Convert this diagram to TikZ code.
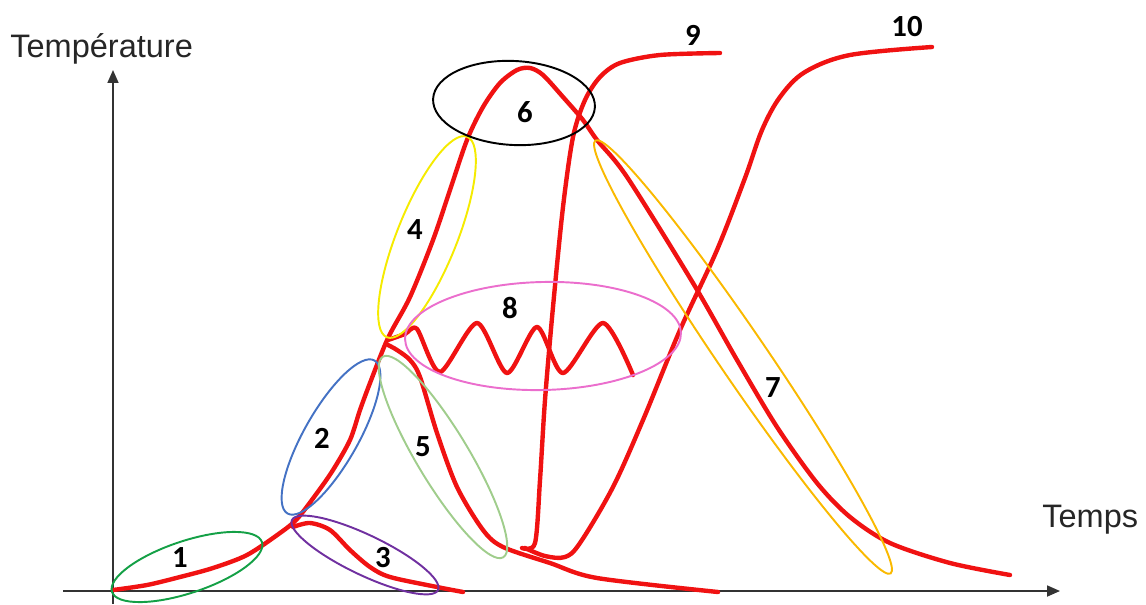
\documentclass[tikz,border=0pt]{standalone}
\usepackage{fontspec}
\setmainfont{Liberation Sans}
\newfontfamily\numfont{Carlito}
\usetikzlibrary{arrows.meta}
\definecolor{hot}{RGB}{240,18,18}
\definecolor{zoneA}{RGB}{20,160,70}
\definecolor{zoneB}{RGB}{68,114,196}
\definecolor{zoneC}{RGB}{112,48,160}
\definecolor{zoneD}{RGB}{245,235,0}
\definecolor{zoneE}{RGB}{160,205,140}
\definecolor{zoneG}{RGB}{250,185,0}
\definecolor{zoneH}{RGB}{235,110,205}

\begin{document}
\begin{tikzpicture}[x=0.02cm, y=-0.02cm,
	heat/.style={hot, line width=2.5pt, line cap=round, line join=round},
	zone/.style={line width=1.1pt},
	axis/.style={black!80, line width=1pt, -{Triangle[length=2.6mm, width=2.2mm]}},
	num/.style={font=\numfont\bfseries\fontsize{17.5}{19}\selectfont, inner sep=0pt},
	axislabel/.style={font=\fontsize{18.5}{21}\selectfont, text=black!85, inner sep=0pt}]
	\useasboundingbox (0,0) rectangle (1146,605);
	% axes
	\coordinate (ybot) at (113,604);
	\coordinate (ytop) at (113,70);
	\coordinate (xleft) at (63,591);
	\coordinate (xright) at (1060,591);
	\draw[axis] (ybot) -- (ytop);
	\draw[axis] (xleft) -- (xright);
	\node[axislabel, anchor=base west] (temp) at (10,57) {Température};
	\node[axislabel, anchor=base west] (time) at (1042,527) {Temps};
	% main heating / cooling path
	\draw[heat] plot[smooth, tension=0.5] coordinates {(113,590) (147,585) (180,577) (213,568) (247,555) (280,533) (297,519) (317,493) (333,470) (350,440) (360,410) (370,383) (388,338) (410,297) (433,240) (450,190) (467,140) (483,107) (500,83) (517,70) (530,68) (543,75) (563,97) (583,120) (597,140) (627,177) (693,283) (737,360) (777,427) (817,483) (850,517) (890,543) (950,563) (1010,575)};
	% branch 3
	\draw[heat] plot[smooth, tension=0.5] coordinates {(293,527) (310,523) (330,530) (350,550) (370,567) (390,577) (437,587) (463,592)};
	% branch 5
	\draw[heat] plot[smooth, tension=0.5] coordinates {(388,345) (397,350) (410,360) (420,377) (437,433) (457,487) (483,530) (503,547) (550,563) (597,578) (718,592)};
	% branch 8
	\draw[heat] plot[smooth, tension=0.45] coordinates {(388,340) (405,334) (417,329) (440,372) (477,323) (507,373) (537,327) (563,373) (603,323) (633,375)};
	% branch 9
	\draw[heat] plot[smooth, tension=0.5] coordinates {(522,548) (535,543) (540,480) (545,400) (553,307) (563,207) (573,137) (585,100) (600,77) (620,63) (660,55) (720,53)};
	% branch 10
	\draw[heat] plot[smooth, tension=0.55] coordinates {(525,548) (545,556) (565,557) (580,543) (613,487) (643,420) (680,330) (717,250) (745,178) (762,130) (780,97) (805,72) (850,55) (932,47)};
	% zones
	\draw[zone, zoneA, rotate around={18.4:(187,567)}] (187,567) ellipse (79 and 26);
	\draw[zone, zoneB, rotate around={60.4:(331,437)}] (331,437) ellipse (88 and 27);
	\draw[zone, zoneC, rotate around={-25.6:(365,555)}] (365,555) ellipse (81 and 20);
	\draw[zone, zoneD, rotate around={68.2:(427,237)}] (427,237) ellipse (108 and 30);
	\draw[zone, zoneE, rotate around={-59:(443,457)}] (443,457) ellipse (117 and 26);
	\draw[zone, black, rotate around={-3:(514,103)}] (514,103) ellipse (81 and 42);
	\draw[zone, zoneG, rotate around={-55.7:(743,357)}] (743,357) ellipse (262 and 24);
	\draw[zone, zoneH, rotate around={1.3:(543,336)}] (543,336) ellipse (138 and 54);
	% zone numbers
	\node[num] (n1) at (180,558) {1};
	\node[num] (n2) at (322,438) {2};
	\node[num] (n3) at (383,558) {3};
	\node[num] (n4) at (415,230) {4};
	\node[num] (n5) at (423,447) {5};
	\node[num] (n6) at (525,112) {6};
	\node[num] (n7) at (773,388) {7};
	\node[num] (n8) at (510,308) {8};
	\node[num] (n9) at (693,35) {9};
	\node[num] (n10) at (907,27) {10};
\end{tikzpicture}
\end{document}
